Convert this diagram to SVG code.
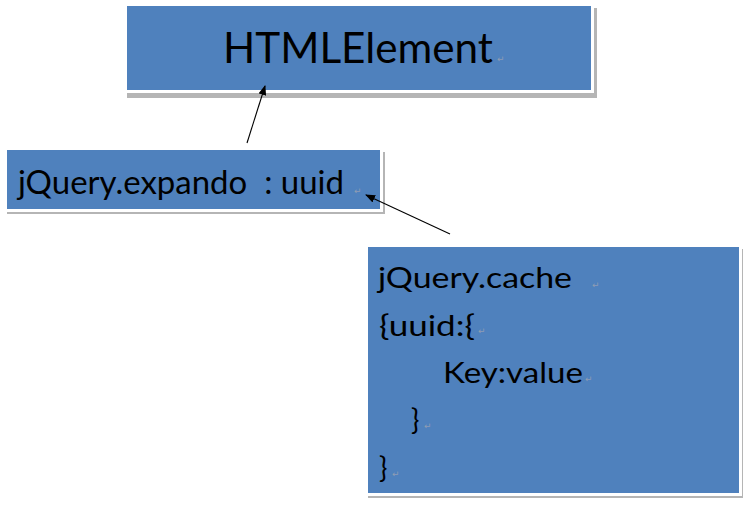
<svg xmlns="http://www.w3.org/2000/svg" width="748" height="514" viewBox="0 0 748 514">
<style>
.shadow{fill:#9c9c9c;opacity:0.75}
.box{fill:#4f81bd;stroke:#ffffff;stroke-width:3}
.t{font-family:Lato,"Open Sans","Liberation Sans",sans-serif;fill:#000000}
.pm{font-family:"DejaVu Sans",sans-serif;font-size:9px;fill:#8e9cb4}
.edge{stroke:#000000;stroke-width:1.1;fill:none;marker-end:url(#ah)}
</style>
<defs>
<marker id="ah" markerWidth="10" markerHeight="8" refX="9" refY="4" orient="auto" markerUnits="userSpaceOnUse">
<path d="M0,0 L10,4 L0,8 Z" fill="#000000"/>
</marker>
</defs>
<rect width="748" height="514" fill="#ffffff"/>
<g id="node-htmlelement">
<rect class="shadow" x="127" y="8" width="470" height="90"/>
<rect class="box" x="125.5" y="4.5" width="467" height="87"/>
<text class="t" x="223" y="63" font-size="42" textLength="270" lengthAdjust="spacingAndGlyphs">HTMLElement</text>
<text class="pm" x="497" y="62">↵</text>
</g>
<g id="node-expando">
<rect class="shadow" x="7" y="152" width="378" height="62"/>
<rect class="box" x="5.5" y="148.5" width="376" height="62"/>
<text class="t" x="18" y="194" font-size="33" textLength="326" lengthAdjust="spacingAndGlyphs" xml:space="preserve">jQuery.expando  : uuid</text>
<text class="pm" x="354" y="194">↵</text>
</g>
<g id="node-cache">
<rect class="shadow" x="368" y="249" width="375" height="249"/>
<rect class="box" x="366.5" y="245.5" width="374" height="249"/>
<text class="t" x="378" y="288" font-size="28" textLength="194" lengthAdjust="spacingAndGlyphs">jQuery.cache</text>
<text class="pm" x="592" y="288">↵</text>
<text class="t" x="379" y="336" font-size="28" textLength="96" lengthAdjust="spacingAndGlyphs">{uuid:{</text>
<text class="pm" x="478" y="334">↵</text>
<text class="t" x="443" y="383" font-size="28" textLength="140" lengthAdjust="spacingAndGlyphs">Key:value</text>
<text class="pm" x="585" y="382">↵</text>
<text class="t" x="411" y="430" font-size="28">}</text>
<text class="pm" x="424" y="429">↵</text>
<text class="t" x="379" y="478" font-size="28">}</text>
<text class="pm" x="392" y="477">↵</text>
</g>
<g id="connectors">
<line class="edge" x1="247" y1="143" x2="265" y2="86"/>
<line class="edge" x1="450" y1="234" x2="366" y2="195"/>
</g>
</svg>
